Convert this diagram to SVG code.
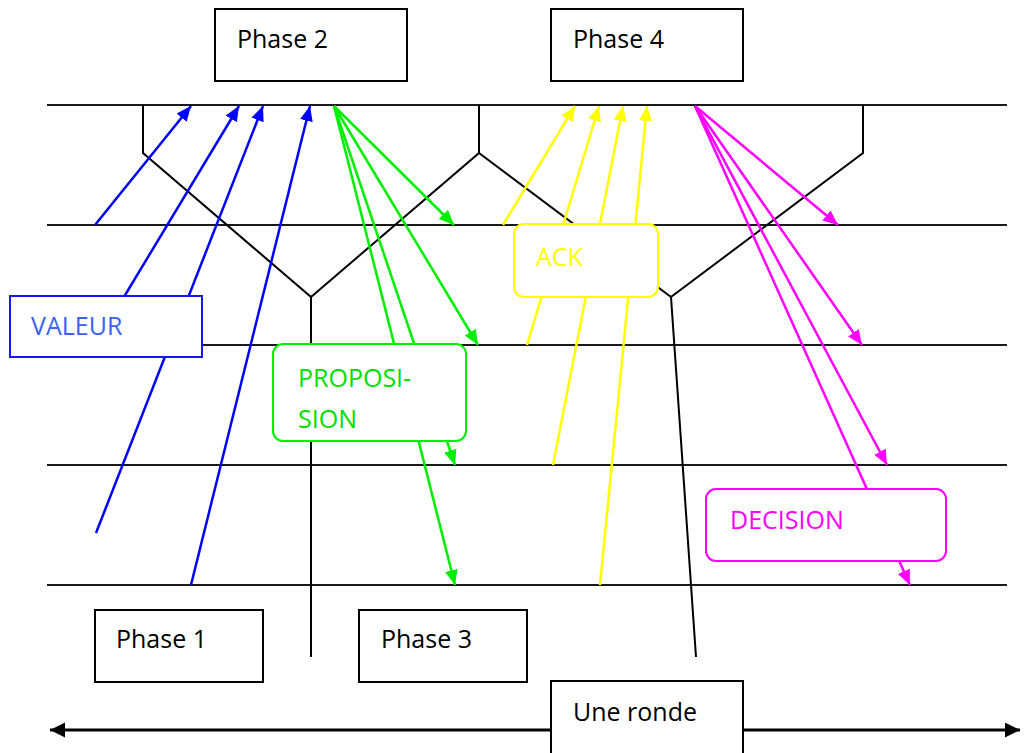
<svg xmlns="http://www.w3.org/2000/svg" width="1024" height="753" viewBox="0 0 1024 753">
<style>
  text { font-family: "Open Sans", "Liberation Sans", sans-serif; font-size: 25px; }
  .tl { stroke: #1a1a1a; stroke-width: 2; fill: none; }
  .bd { stroke: #000; stroke-width: 2; fill: none; stroke-linejoin: miter; }
  .box { fill: #fff; stroke: #000; stroke-width: 2; }
  .blue { stroke: #0000ff; stroke-width: 2.5; fill: none; marker-end: url(#ab); }
  .green { stroke: #00ee00; stroke-width: 2.5; fill: none; marker-end: url(#ag); }
  .yellow { stroke: #ffff00; stroke-width: 2.5; fill: none; marker-end: url(#ay); }
  .mag { stroke: #ff00ff; stroke-width: 2.5; fill: none; marker-end: url(#am); }
</style>
<defs>
  <marker id="ab" markerUnits="userSpaceOnUse" markerWidth="16" markerHeight="14" refX="15" refY="6.5" orient="auto"><path d="M0,0 L15,6.5 L0,13 z" fill="#0000ff"/></marker>
  <marker id="ag" markerUnits="userSpaceOnUse" markerWidth="16" markerHeight="14" refX="15" refY="6.5" orient="auto"><path d="M0,0 L15,6.5 L0,13 z" fill="#00ee00"/></marker>
  <marker id="ay" markerUnits="userSpaceOnUse" markerWidth="16" markerHeight="14" refX="15" refY="6.5" orient="auto"><path d="M0,0 L15,6.5 L0,13 z" fill="#ffff00"/></marker>
  <marker id="am" markerUnits="userSpaceOnUse" markerWidth="16" markerHeight="14" refX="15" refY="6.5" orient="auto"><path d="M0,0 L15,6.5 L0,13 z" fill="#ff00ff"/></marker>
  <marker id="ak" markerUnits="userSpaceOnUse" markerWidth="16" markerHeight="16" refX="15" refY="7.5" orient="auto-start-reverse"><path d="M0,0 L15,7.5 L0,15 z" fill="#000"/></marker>
</defs>

<g id="timelines">
  <line class="tl" x1="47" y1="105" x2="1007" y2="105"/>
  <line class="tl" x1="47" y1="225" x2="1007" y2="225"/>
  <line class="tl" x1="47" y1="345" x2="1007" y2="345"/>
  <line class="tl" x1="47" y1="465" x2="1007" y2="465"/>
  <line class="tl" x1="47" y1="585" x2="1007" y2="585"/>
</g>

<g id="phase-boundaries">
  <polyline class="bd" points="143,105 143,153 311,297 311,657"/>
  <polyline class="bd" points="479,105 479,153 311,297"/>
  <polyline class="bd" points="479,153 671,297"/>
  <polyline class="bd" points="863,105 863,153 671,297 696,657"/>
</g>

<g id="connectors">
  <line class="blue" x1="95" y1="225" x2="191" y2="106"/>
  <line class="blue" x1="95" y1="345" x2="239" y2="106"/>
  <line class="blue" x1="96" y1="533" x2="263" y2="106"/>
  <line class="blue" x1="191" y1="585" x2="310" y2="106"/>

  <line class="green" x1="334" y1="106" x2="454" y2="225"/>
  <line class="green" x1="334" y1="106" x2="478" y2="345"/>
  <line class="green" x1="334" y1="106" x2="455" y2="465"/>
  <line class="green" x1="334" y1="106" x2="455" y2="585"/>

  <line class="yellow" x1="503" y1="225" x2="575" y2="106"/>
  <line class="yellow" x1="527" y1="345" x2="599" y2="106"/>
  <line class="yellow" x1="553" y1="465" x2="623" y2="106"/>
  <line class="yellow" x1="600" y1="585" x2="647" y2="106"/>

  <line class="mag" x1="695" y1="106" x2="838" y2="225"/>
  <line class="mag" x1="695" y1="106" x2="862" y2="345"/>
  <line class="mag" x1="695" y1="106" x2="887" y2="465"/>
  <line class="mag" x1="695" y1="106" x2="910" y2="585"/>

  <line x1="50" y1="730" x2="1020" y2="730" stroke="#000" stroke-width="3" marker-start="url(#ak)" marker-end="url(#ak)"/>
</g>

<g id="phase2">
  <rect class="box" x="215" y="9" width="192" height="72"/>
  <text x="237" y="48" fill="#000">Phase 2</text>
</g>
<g id="phase4">
  <rect class="box" x="551" y="9" width="192" height="72"/>
  <text x="573" y="48" fill="#000">Phase 4</text>
</g>
<g id="phase1">
  <rect class="box" x="95" y="610" width="168" height="72"/>
  <text x="116" y="648" fill="#000">Phase 1</text>
</g>
<g id="phase3">
  <rect class="box" x="359" y="610" width="168" height="72"/>
  <text x="381" y="648" fill="#000">Phase 3</text>
</g>
<g id="une-ronde">
  <rect class="box" x="551" y="681" width="192" height="80"/>
  <text x="573" y="721" fill="#000">Une ronde</text>
</g>

<g id="valeur">
  <rect x="10" y="296" width="192" height="61" fill="#fff" stroke="#1515ff" stroke-width="2"/>
  <text x="31" y="335" fill="#3a62f2">VALEUR</text>
</g>
<g id="proposition">
  <rect x="273" y="344" width="193" height="97" rx="10" fill="#fff" stroke="#00ee00" stroke-width="2"/>
  <text x="298" y="387" fill="#00e000">PROPOSI-</text>
  <text x="298" y="428" fill="#00e000">SION</text>
</g>
<g id="ack">
  <rect x="514" y="224" width="144" height="73" rx="10" fill="#fff" stroke="#ffff00" stroke-width="2"/>
  <text x="536" y="266" fill="#ffff00">ACK</text>
</g>
<g id="decision">
  <rect x="706" y="489" width="240" height="72" rx="10" fill="#fff" stroke="#ff00ff" stroke-width="2"/>
  <text x="730" y="529" fill="#ff00ff">DECISION</text>
</g>
</svg>
